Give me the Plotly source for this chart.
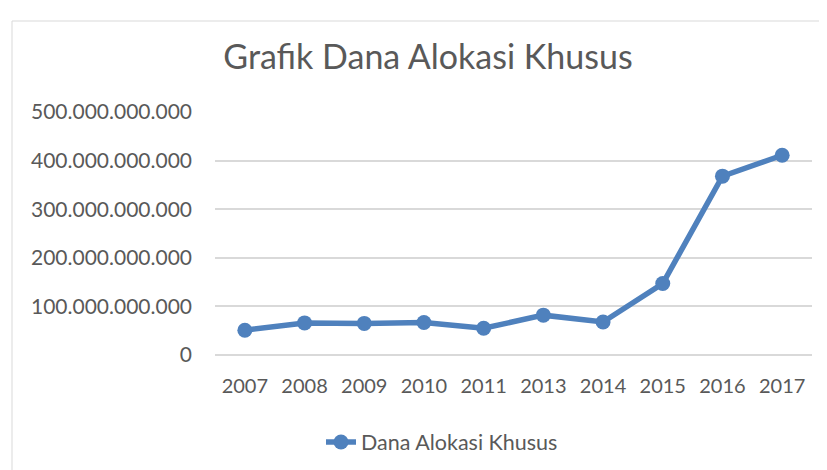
import plotly.graph_objects as go

years = ["2007", "2008", "2009", "2010", "2011", "2013", "2014", "2015", "2016", "2017"]
dak = [51e9, 66e9, 65e9, 67e9, 55e9, 82e9, 68e9, 147e9, 368e9, 411e9]
ytick_vals = [0, 100e9, 200e9, 300e9, 400e9, 500e9]
ytick_text = ["0", "100.000.000.000", "200.000.000.000", "300.000.000.000", "400.000.000.000", "500.000.000.000"]

W, H = 827, 470
OFF = 8  # page body margin offset
# plot area in reference pixel coordinates: x 215..812, y 112..355
L = 215 - OFF
T = 112 - OFF
R = W - (812 - OFF)
B = H - (355 - OFF)
pw, ph = W - L - R, H - T - B

def px_to_paper_x(x):
    return (x - OFF - L) / pw

def px_to_paper_y(y):
    return (H - B - (y - OFF)) / ph

fig = go.Figure()
fig.add_trace(go.Scatter(
    x=years, y=dak, mode="lines+markers", name="Dana Alokasi Khusus",
    line=dict(color="#4F81BD", width=5.5),
    marker=dict(color="#4F81BD", size=15),
))

font_family = "Lato, Open Sans, sans-serif"
fig.update_layout(
    width=W, height=H,
    margin=dict(l=L, r=R, t=T, b=B, autoexpand=False),
    paper_bgcolor="white", plot_bgcolor="white",
    separators=",.",
    font=dict(family=font_family, color="#595959", size=20),
    title=dict(text="Grafik Dana Alokasi Khusus",
               x=(428 - OFF) / W, xanchor="center", xref="container",
               y=1 - (57 - OFF) / H, yanchor="middle", yref="container",
               font=dict(size=34, color="#595959", family=font_family)),
    xaxis=dict(type="category", range=[-0.5, len(years) - 0.5],
               showgrid=False, showline=False, zeroline=False,
               ticks="", ticklabelstandoff=17,
               tickfont=dict(size=20, color="#595959")),
    yaxis=dict(range=[0, 500e9], tickvals=ytick_vals, ticktext=ytick_text,
               showgrid=True, gridcolor="#D9D9D9", gridwidth=1.5,
               zeroline=True, zerolinecolor="#D9D9D9", zerolinewidth=1.5,
               showline=False, ticks="", ticklabelstandoff=22,
               tickfont=dict(size=21, color="#595959")),
    showlegend=True,
    legend=dict(orientation="h", x=px_to_paper_x(442), xanchor="center",
                y=px_to_paper_y(442), yanchor="middle",
                font=dict(size=21.5, color="#595959")),
    shapes=[dict(type="rect", xref="paper", yref="paper",
                 x0=px_to_paper_x(12), x1=px_to_paper_x(840),
                 y0=px_to_paper_y(484), y1=px_to_paper_y(21),
                 line=dict(color="#D9D9D9", width=1), fillcolor="rgba(0,0,0,0)",
                 layer="below")],
)

fig.write_html("out.html")
